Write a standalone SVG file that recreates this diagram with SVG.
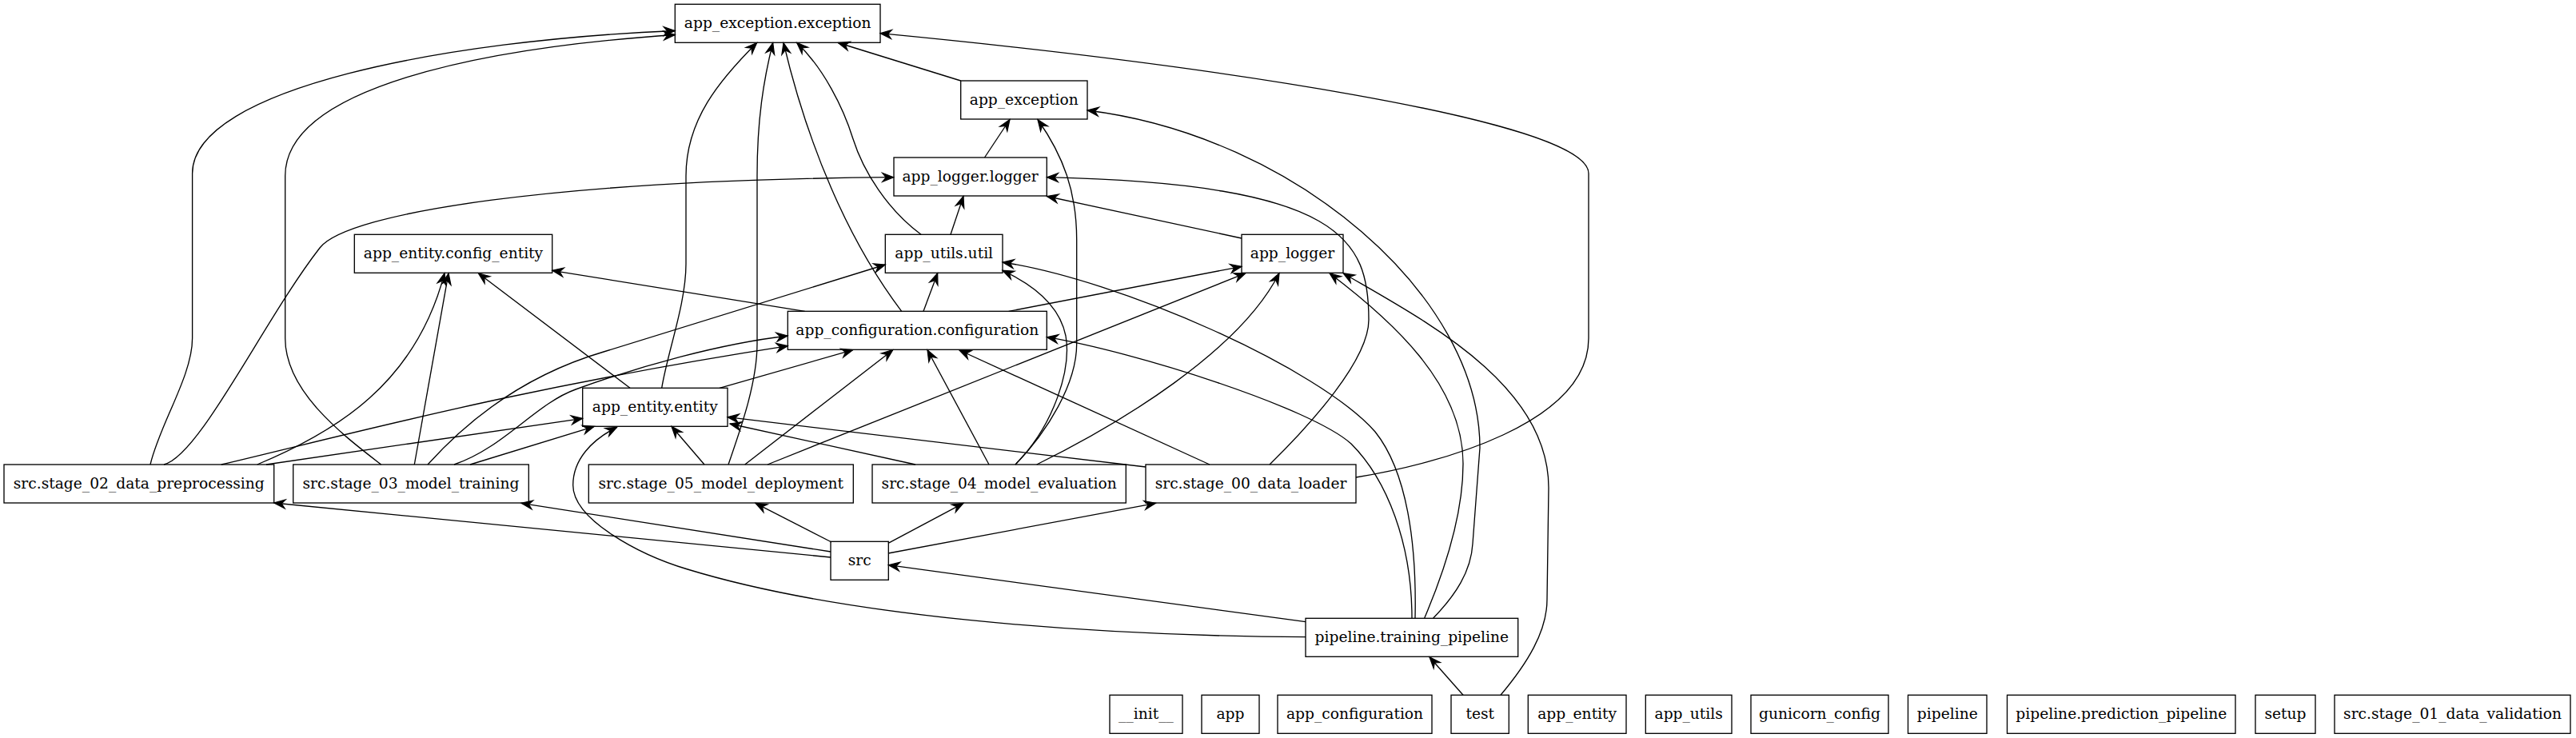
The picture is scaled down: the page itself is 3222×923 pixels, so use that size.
<svg xmlns="http://www.w3.org/2000/svg" width="3222" height="923" viewBox="0 0 3222 923">
<style>
.node rect{fill:none;stroke:#000;stroke-width:1.33}
.node text{font-family:"DejaVu Serif","Liberation Serif",serif;font-size:18.67px;text-anchor:middle;fill:#000}
.edges path{fill:none;stroke:#000;stroke-width:1.33;marker-end:url(#arr)}
</style>
<defs>
<marker id="arr" markerUnits="userSpaceOnUse" viewBox="-16 -8 17 16" markerWidth="17" markerHeight="16" refX="0" refY="0" orient="auto" overflow="visible">
<path d="M0,0 L-14,-5.5 L-9.5,0 L-14,5.5 Z" fill="#000" stroke="#000" stroke-width="1.2"/>
</marker>
</defs>
<rect width="3222" height="923" fill="#fff"/>
<g class="edges" id="edges">
<path d="M1201.7,101 L1048.3,53.5"/>
<path d="M1231.5,197 L1263,149.5"/>
<path d="M1189,293.3 L1205,245.5"/>
<path d="M1152,293.3 C1110,262 1080,215 1066.7,173 C1055,135 1030,85 996.7,53.5"/>
<path d="M1553,298 L1309.4,245.5"/>
<path d="M1155,389.3 L1172.7,341.7"/>
<path d="M1261.7,389.3 L1553,333.3"/>
<path d="M1006.7,389.3 L690.7,338.3"/>
<path d="M1127.7,389.3 C1060,300 1010,180 980,53.5"/>
<path d="M900,485.3 L1066.7,437.7"/>
<path d="M788,485.3 L598.3,341.7"/>
<path d="M827.7,485.3 C835,440 858,380 858,330 L858,220 C858,150 900,100 946.7,53.5"/>
<path d="M188,581 C200,530 240.6,470 240.6,423 L240.6,217 C240.6,110 560,50 844.3,38.5"/>
<path d="M205,581 C250,570 330,400 400,310 C435,265 700,225 1117.7,221.7"/>
<path d="M321.7,581 C420,540 520,480 556,341.7"/>
<path d="M276.7,581 C450,540 650,485 985.3,432.7"/>
<path d="M333,581 L728.7,523.3"/>
<path d="M476.7,581 C430,545 356.7,490 356.7,423 L356.7,220 C356.7,110 600,60 844.3,43.5"/>
<path d="M518.3,581 L561,341.7"/>
<path d="M535,581 C590,520 660,468 755,440 L1107.3,331"/>
<path d="M568,581 C630,560 670,505 720,487 C800,458 900,430 985.3,420"/>
<path d="M588,581 L743.3,533.3"/>
<path d="M881,581 L840,533.3"/>
<path d="M911,581 C925,540 947,480 947,430 L947,220 C947,150 955,100 966.7,53.5"/>
<path d="M931.7,581 L1116.7,437.7"/>
<path d="M960,581 L1558,341.7"/>
<path d="M1145,581 L913,530"/>
<path d="M1237,581 L1160,437.7"/>
<path d="M1270,581 C1310,540 1346.7,480 1346.7,430 L1346.7,300 C1346.7,240 1330,195 1298,149.5"/>
<path d="M1270,581 C1320,530 1340,460 1333,420 C1325,380 1290,355 1254,338.3"/>
<path d="M1296.7,581 C1400,530 1550,440 1600,341.7"/>
<path d="M1433,584 L910,521.7"/>
<path d="M1513,581 L1200,438"/>
<path d="M1588,581 C1640,530 1712,450 1712,400 C1712,300 1680,230 1309.4,221.7"/>
<path d="M1696,597 C1800,580 1987,530 1987,423 L1987,217 C1987,150 1500,80 1101,41.7"/>
<path d="M1039,697 L342.7,629"/>
<path d="M1039,690 L652,629.3"/>
<path d="M1040,678 L945,629.3"/>
<path d="M1111,679.3 L1205,629.3"/>
<path d="M1111,692 L1445.5,629.3"/>
<path d="M1633,777.7 L1111.3,706.7"/>
<path d="M1633,796.7 C1350,795 1050,770 860,712 C800,694 716.7,650 716.7,606.7 C716.7,575 740,550 771.7,534.3"/>
<path d="M1766,773 C1766,680 1735,600 1690,555 C1640,510 1420,440 1309.3,421.7"/>
<path d="M1770,773 C1772,680 1760,590 1720,540 C1650,460 1400,350 1254,328"/>
<path d="M1781.7,773 C1800,730 1830,650 1830,580 C1830,480 1740,400 1663,341.7"/>
<path d="M1792.7,773 C1820,745 1840,715 1842,680 L1851,560 C1851,370 1620,170 1360,138"/>
<path d="M1830,869.3 L1788,821.7"/>
<path d="M1877,869.3 C1910,830 1935,790 1935,750 L1937,610 C1937,480 1780,400 1680,341.7"/>
</g>
<g class="node" id="app_exception_exception"><rect x="844.3" y="5.3" width="256.7" height="48"/><text x="972.7" y="34.8">app_exception.exception</text></g>
<g class="node" id="app_exception"><rect x="1201.7" y="101" width="158.3" height="48"/><text x="1280.8" y="130.5">app_exception</text></g>
<g class="node" id="app_logger_logger"><rect x="1118" y="197" width="191.3" height="48"/><text x="1213.6" y="226.5">app_logger.logger</text></g>
<g class="node" id="app_entity_config_entity"><rect x="443.3" y="293.3" width="247.4" height="48"/><text x="567" y="322.8">app_entity.config_entity</text></g>
<g class="node" id="app_utils_util"><rect x="1107.3" y="293.3" width="146.7" height="48"/><text x="1180.7" y="322.8">app_utils.util</text></g>
<g class="node" id="app_logger"><rect x="1553" y="293.3" width="127" height="48"/><text x="1616.5" y="322.8">app_logger</text></g>
<g class="node" id="app_configuration_configuration"><rect x="985.3" y="389.3" width="324" height="48"/><text x="1147.3" y="418.8">app_configuration.configuration</text></g>
<g class="node" id="app_entity_entity"><rect x="728.7" y="485.3" width="181.3" height="48"/><text x="819.3" y="514.8">app_entity.entity</text></g>
<g class="node" id="src_stage_02_data_preprocessing"><rect x="5" y="581" width="337.7" height="48"/><text x="173.8" y="610.5">src.stage_02_data_preprocessing</text></g>
<g class="node" id="src_stage_03_model_training"><rect x="366.7" y="581" width="294.6" height="48"/><text x="514" y="610.5">src.stage_03_model_training</text></g>
<g class="node" id="src_stage_05_model_deployment"><rect x="736.3" y="581" width="331" height="48"/><text x="901.8" y="610.5">src.stage_05_model_deployment</text></g>
<g class="node" id="src_stage_04_model_evaluation"><rect x="1091" y="581" width="317.3" height="48"/><text x="1249.7" y="610.5">src.stage_04_model_evaluation</text></g>
<g class="node" id="src_stage_00_data_loader"><rect x="1433" y="581" width="263" height="48"/><text x="1564.5" y="610.5">src.stage_00_data_loader</text></g>
<g class="node" id="src"><rect x="1039" y="677.3" width="72.3" height="48"/><text x="1075.2" y="706.8">src</text></g>
<g class="node" id="pipeline_training_pipeline"><rect x="1633" y="773.3" width="265.7" height="48"/><text x="1765.8" y="802.8">pipeline.training_pipeline</text></g>
<g class="node" id="__init__"><rect x="1388" y="869.3" width="91" height="48"/><text x="1433.5" y="898.8">__init__</text></g>
<g class="node" id="app"><rect x="1503" y="869.3" width="72" height="48"/><text x="1539" y="898.8">app</text></g>
<g class="node" id="app_configuration"><rect x="1598" y="869.3" width="193" height="48"/><text x="1694.5" y="898.8">app_configuration</text></g>
<g class="node" id="test"><rect x="1815" y="869.3" width="72.3" height="48"/><text x="1851.2" y="898.8">test</text></g>
<g class="node" id="app_entity"><rect x="1911.3" y="869.3" width="122.7" height="48"/><text x="1972.7" y="898.8">app_entity</text></g>
<g class="node" id="app_utils"><rect x="2058.3" y="869.3" width="107.7" height="48"/><text x="2112.2" y="898.8">app_utils</text></g>
<g class="node" id="gunicorn_config"><rect x="2190" y="869.3" width="172" height="48"/><text x="2276" y="898.8">gunicorn_config</text></g>
<g class="node" id="pipeline"><rect x="2386.5" y="869.3" width="98.5" height="48"/><text x="2435.8" y="898.8">pipeline</text></g>
<g class="node" id="pipeline_prediction_pipeline"><rect x="2510.5" y="869.3" width="285.5" height="48"/><text x="2653.3" y="898.8">pipeline.prediction_pipeline</text></g>
<g class="node" id="setup"><rect x="2821" y="869.3" width="75" height="48"/><text x="2858.5" y="898.8">setup</text></g>
<g class="node" id="src_stage_01_data_validation"><rect x="2920" y="869.3" width="295" height="48"/><text x="3067.5" y="898.8">src.stage_01_data_validation</text></g>
</svg>
